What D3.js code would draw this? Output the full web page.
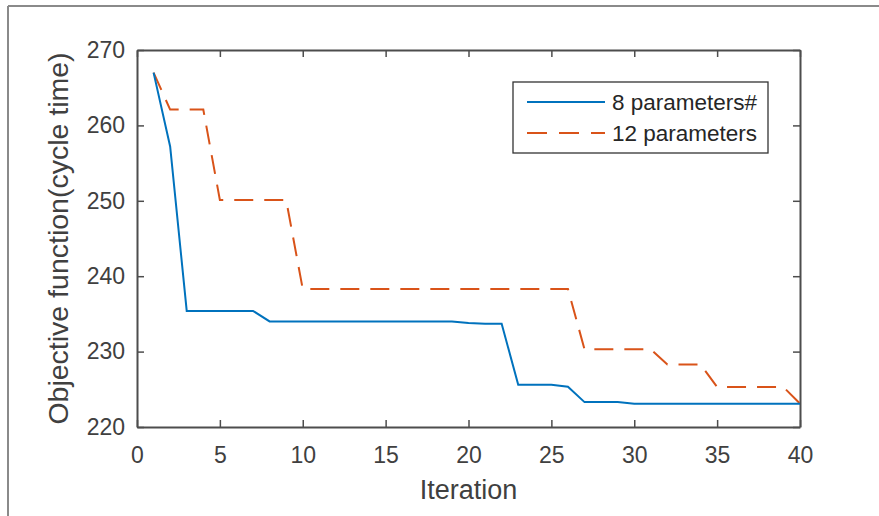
<!DOCTYPE html>
<html>
<head>
<meta charset="utf-8">
<script src="https://cdn.jsdelivr.net/npm/d3@7"></script>
<style>
  html, body { margin: 0; padding: 0; background: #fff; }
  svg { display: block; }
  text { font-family: "Liberation Sans", Arial, Helvetica, sans-serif; }
</style>
</head>
<body>
<svg id="chart" width="879" height="516"></svg>
<script>
// ---- data ----
const iterations = d3.range(1, 41);
const series8 = [267.0, 257.2, 235.4, 235.4, 235.4, 235.4, 235.4, 234.0, 234.0, 234.0,
                 234.0, 234.0, 234.0, 234.0, 234.0, 234.0, 234.0, 234.0, 234.0, 233.8,
                 233.7, 233.7, 225.6, 225.6, 225.6, 225.35, 223.3, 223.3, 223.3, 223.1,
                 223.1, 223.1, 223.1, 223.1, 223.1, 223.1, 223.1, 223.1, 223.1, 223.1];
const series12 = [267.0, 262.1, 262.1, 262.1, 250.1, 250.1, 250.1, 250.1, 250.1, 238.3,
                  238.3, 238.3, 238.3, 238.3, 238.3, 238.3, 238.3, 238.3, 238.3, 238.3,
                  238.3, 238.3, 238.3, 238.3, 238.3, 238.3, 230.3, 230.3, 230.3, 230.3,
                  230.3, 228.3, 228.3, 228.3, 225.3, 225.3, 225.3, 225.3, 225.3, 223.1];
const seriesNames = ["8 parameters#", "12 parameters"];
const xTicks = [0, 5, 10, 15, 20, 25, 30, 35, 40];
const yTicks = [220, 230, 240, 250, 260, 270];
const xLabel = "Iteration";
const yLabel = "Objective function(cycle time)";

// ---- layout ----
const svg = d3.select("#chart");
const L = 137, T = 50, R = 800, B = 427;
const x = d3.scaleLinear().domain([0, 40]).range([L, R]);
const y = d3.scaleLinear().domain([220, 270]).range([B, T]);
const axisColor = "#4d4d4d";
const textColor = "#404040";

// figure border (partial frame)
svg.append("line").attr("x1", 8).attr("x2", 879).attr("y1", 6).attr("y2", 6)
  .attr("stroke", "#8a8a8a").attr("stroke-width", 2);
svg.append("line").attr("x1", 8).attr("x2", 8).attr("y1", 6).attr("y2", 516)
  .attr("stroke", "#8a8a8a").attr("stroke-width", 2);

// axes
function styleAxis(g) {
  g.select(".domain").attr("stroke", axisColor).attr("stroke-width", 2);
  g.selectAll(".tick line").attr("stroke", axisColor).attr("stroke-width", 1.5);
  g.selectAll(".tick text").attr("fill", textColor).style("font-size", "23px")
    .style("font-family", '"Liberation Sans", Arial, sans-serif');
}
svg.append("g").attr("transform", `translate(0,${B})`)
  .call(d3.axisBottom(x).tickValues(xTicks).tickSizeInner(-7).tickSizeOuter(0).tickPadding(20))
  .call(styleAxis);
svg.append("g").attr("transform", `translate(0,${T})`)
  .call(d3.axisTop(x).tickValues(xTicks).tickSizeInner(-7).tickSizeOuter(0).tickFormat(""))
  .call(styleAxis);
svg.append("g").attr("transform", `translate(${L},0)`)
  .call(d3.axisLeft(y).tickValues(yTicks).tickSizeInner(-7).tickSizeOuter(0).tickPadding(12))
  .call(styleAxis);
svg.append("g").attr("transform", `translate(${R},0)`)
  .call(d3.axisRight(y).tickValues(yTicks).tickSizeInner(-7).tickSizeOuter(0).tickFormat(""))
  .call(styleAxis);

// lines
const line = d3.line().x((d, i) => x(iterations[i])).y(d => y(d));
svg.append("path").datum(series12).attr("d", line)
  .attr("fill", "none").attr("stroke", "#D95319").attr("stroke-width", 2)
  .attr("stroke-dasharray", "19,11");
svg.append("path").datum(series8).attr("d", line)
  .attr("fill", "none").attr("stroke", "#0072BD").attr("stroke-width", 2);

// axis labels
svg.append("text").attr("x", (L + R) / 2).attr("y", 499).attr("text-anchor", "middle")
  .attr("fill", textColor).style("font-size", "27px").text(xLabel);
svg.append("text").attr("transform", `translate(68,${(T + B) / 2}) rotate(-90)`)
  .attr("text-anchor", "middle").attr("fill", textColor).style("font-size", "28.5px").text(yLabel);

// legend
const lg = svg.append("g");
lg.append("rect").attr("x", 513).attr("y", 82).attr("width", 255).attr("height", 71)
  .attr("fill", "#fff").attr("stroke", "#333").attr("stroke-width", 1.3);
const legendItems = [
  { name: seriesNames[0], color: "#0072BD", dash: null, yy: 102 },
  { name: seriesNames[1], color: "#D95319", dash: "20,12", yy: 133 }
];
legendItems.forEach(it => {
  lg.append("line").attr("x1", 527).attr("x2", 605).attr("y1", it.yy).attr("y2", it.yy)
    .attr("stroke", it.color).attr("stroke-width", 2).attr("stroke-dasharray", it.dash);
  lg.append("text").attr("x", 612).attr("y", it.yy + 8).attr("fill", "#262626")
    .style("font-size", "22.5px").text(it.name);
});
</script>
</body>
</html>
